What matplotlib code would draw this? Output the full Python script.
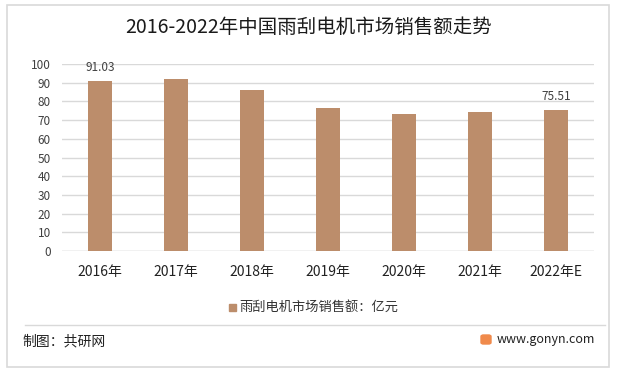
import matplotlib
matplotlib.use("Agg")
import matplotlib.pyplot as plt
from matplotlib.patches import Rectangle, FancyBboxPatch
from matplotlib.lines import Line2D

plt.rcParams['font.family'] = ['Noto Sans CJK SC', 'DejaVu Sans']

title = "2016-2022年中国雨刮电机市场销售额走势"
categories = ["2016年", "2017年", "2018年", "2019年", "2020年", "2021年", "2022年E"]
values = [91.03, 92.0, 85.9, 76.6, 73.0, 74.3, 75.51]
labeled = {0: "91.03", 6: "75.51"}
series_name = "雨刮电机市场销售额：亿元"
yticks = [0, 10, 20, 30, 40, 50, 60, 70, 80, 90, 100]

W, H = 617, 375
fig = plt.figure(figsize=(W / 100, H / 100), dpi=100)
fig.patch.set_facecolor("white")

# outer frame
fig.add_artist(Rectangle((7 / W, 1 - 367 / H), (609 - 7) / W, (367 - 5) / H,
                         transform=fig.transFigure, fill=False,
                         edgecolor="#d9d9d9", linewidth=1.2))

ax = fig.add_axes([62 / W, 1 - 251 / H, (594 - 62) / W, (251 - 64) / H])
bar_color = "#BC8D6B"
x = list(range(len(categories)))
ax.bar(x, values, width=0.32, color=bar_color, zorder=3)
ax.set_xlim(-0.5, len(categories) - 0.5)
ax.set_ylim(0, 100)
ax.set_yticks(yticks)
ax.set_yticklabels([str(t) for t in yticks], fontsize=8.5, color="#404040")
ax.set_xticks(x)
ax.set_xticklabels(categories, fontsize=10, color="#222222")
ax.tick_params(axis="both", length=0, pad=8)
ax.tick_params(axis="x", pad=10)
ax.grid(axis="y", color="#d9d9d9", linewidth=1.0, zorder=0)
for s in ax.spines.values():
    s.set_visible(False)
ax.axhline(0, color="#d9d9d9", linewidth=1.0, zorder=1)

for i, lab in labeled.items():
    ax.annotate(lab, (x[i], values[i]), xytext=(0, 5), textcoords="offset points",
                ha="center", va="bottom", fontsize=8.5, color="#404040")

fig.text(0.5, 1 - 27 / H, title, ha="center", va="center", fontsize=14, color="#1a1a1a")

# legend
fig.add_artist(Rectangle((229 / W, 1 - 311 / H), 7 / W, 7 / H,
                         transform=fig.transFigure, color=bar_color))
fig.text(239 / W, 1 - 307 / H, series_name, ha="left", va="center",
         fontsize=9.5, color="#333333")

# separator
fig.add_artist(Line2D([25 / W, 605 / W], [1 - 325 / H, 1 - 325 / H],
                      transform=fig.transFigure, color="#d9d9d9", linewidth=1.0))

fig.text(22 / W, 1 - 341 / H, "制图：共研网", ha="left", va="center",
         fontsize=10, color="#222222")

# logo
fig.add_artist(FancyBboxPatch((481 / W, 1 - 344 / H), 10 / W, 9 / H,
                              boxstyle="round,pad=0,rounding_size=0.004",
                              transform=fig.transFigure, color="#F08A4B"))
fig.text(497 / W, 1 - 339 / H, "www.gonyn.com", ha="left", va="center",
         fontsize=9, color="#222222")

fig.savefig("out.png", dpi=100, facecolor="white")
